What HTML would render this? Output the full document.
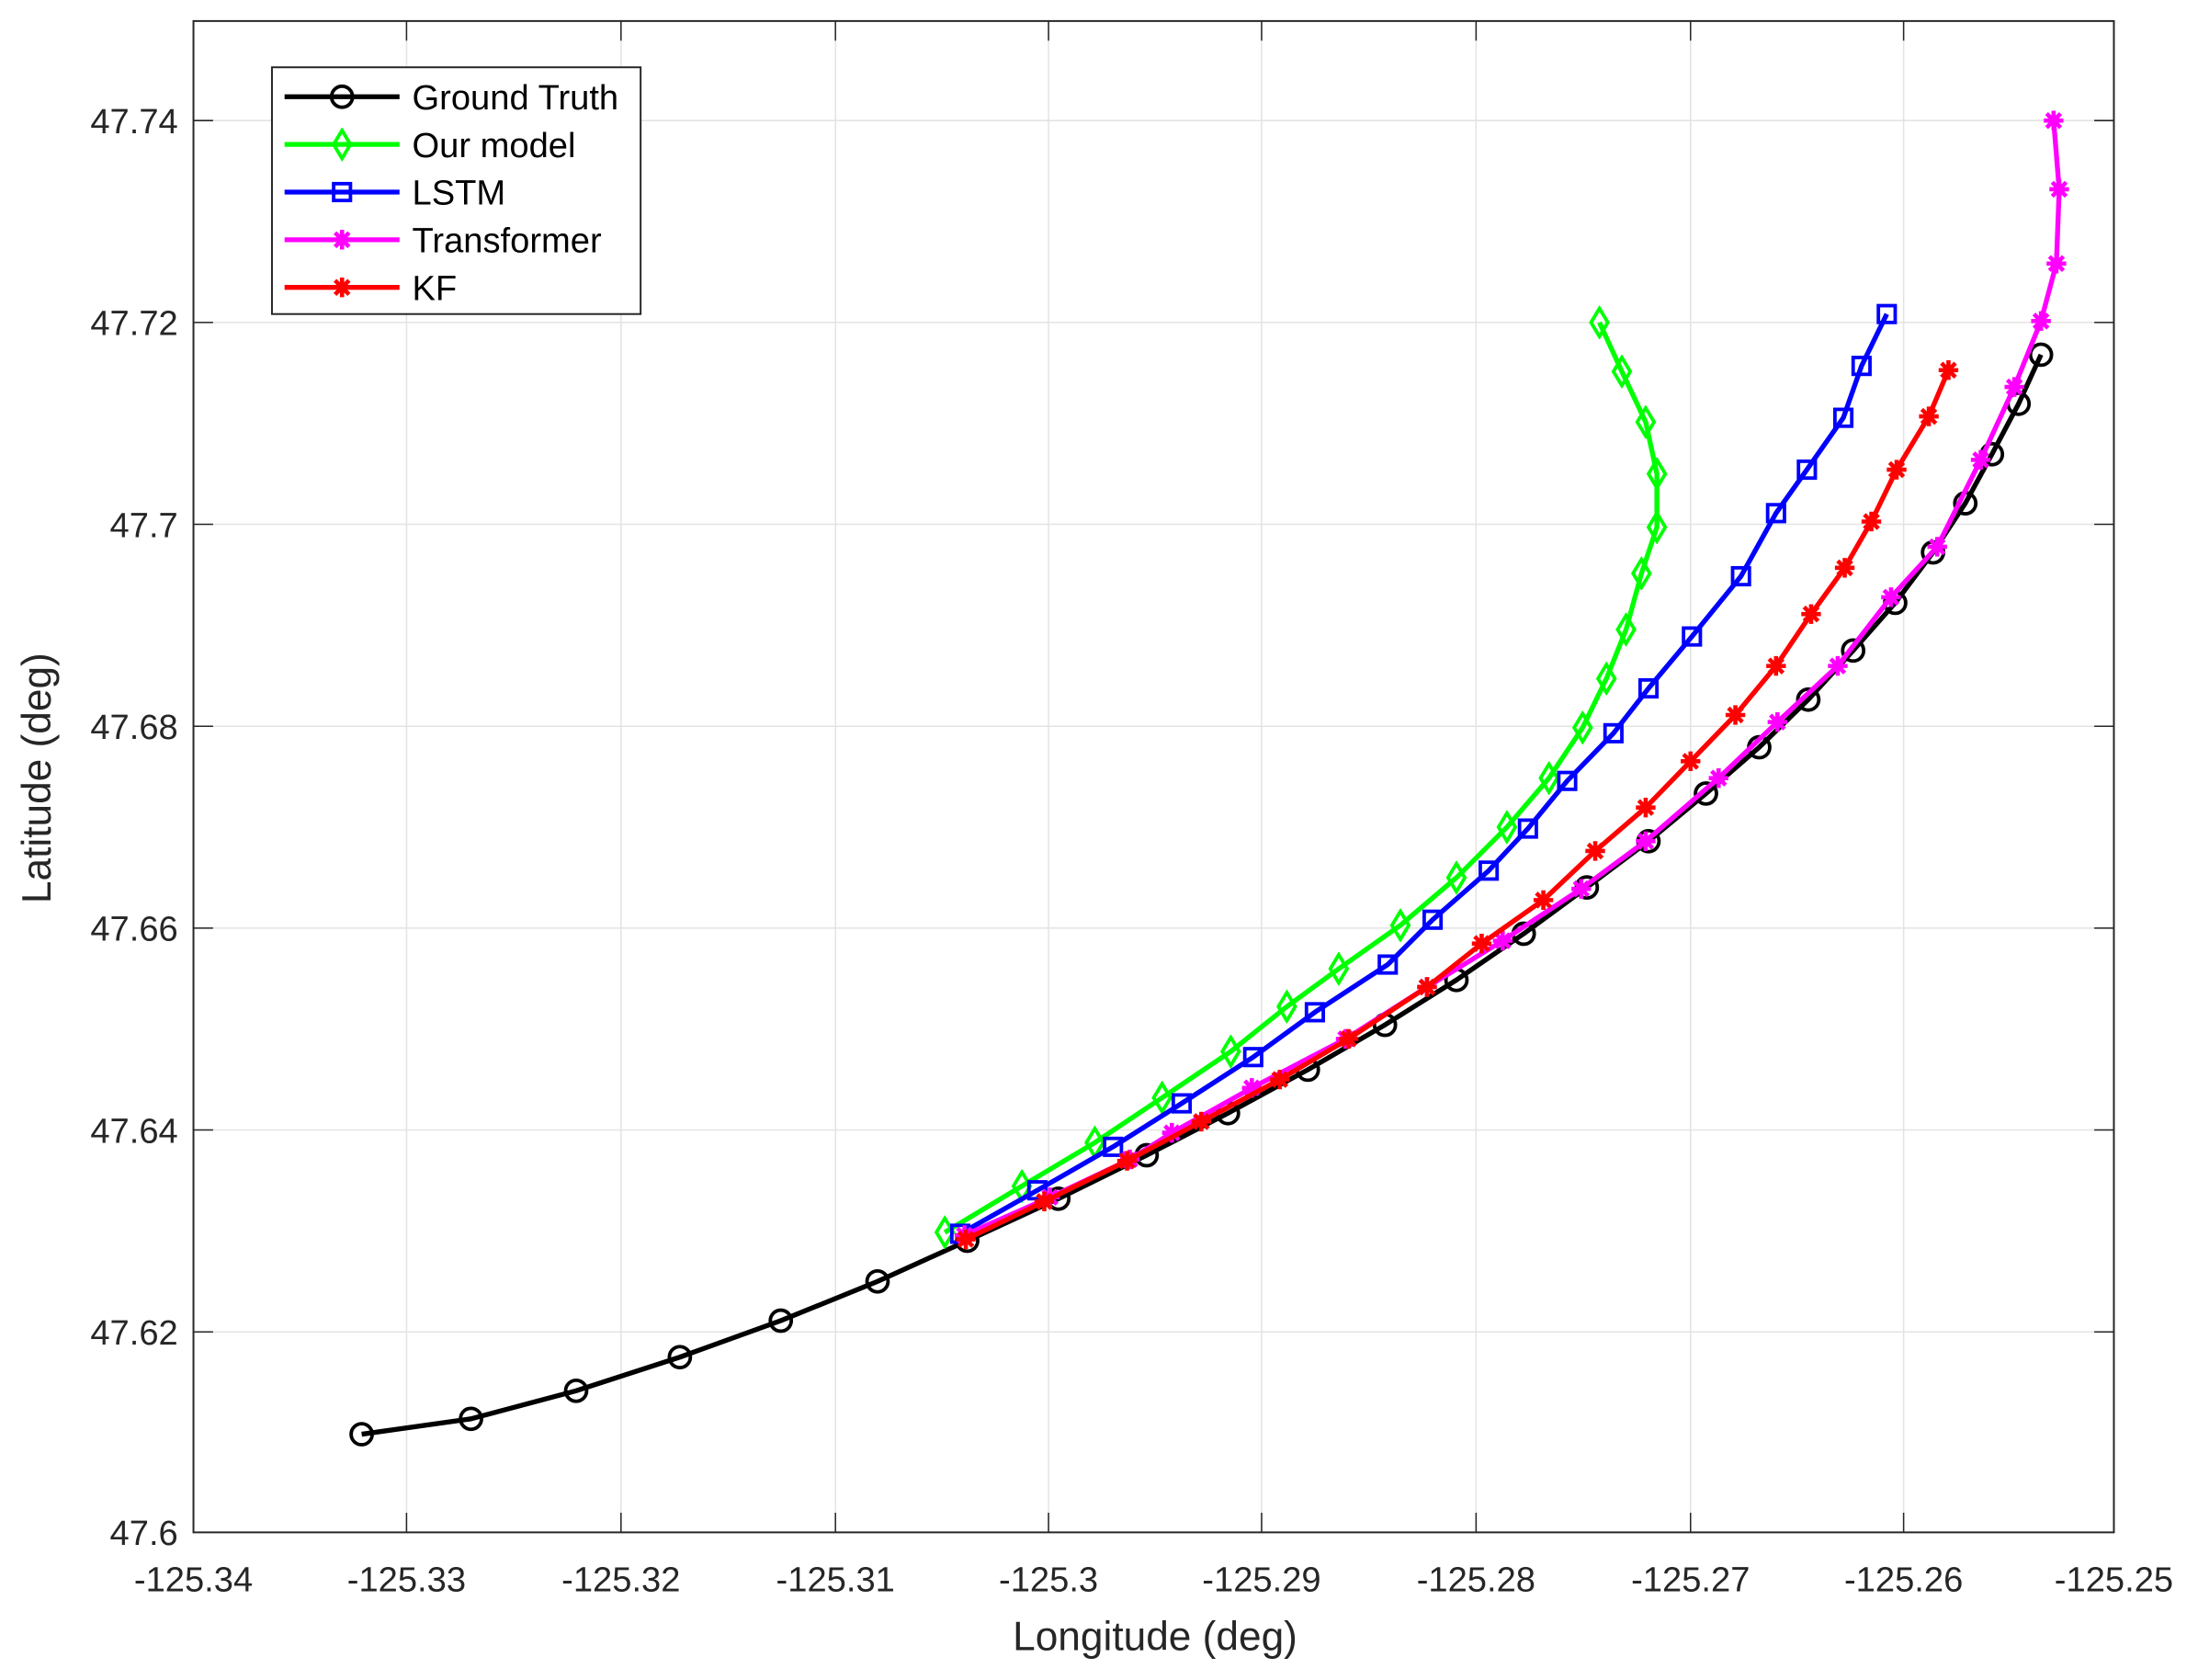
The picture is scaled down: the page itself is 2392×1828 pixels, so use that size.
<!DOCTYPE html>
<html><head><meta charset="utf-8"><style>html,body{margin:0;padding:0;background:#fff}svg{display:block}</style></head>
<body>
<svg width="2392" height="1828" viewBox="0 0 1568 1198.3" xmlns="http://www.w3.org/2000/svg" font-family="Liberation Sans, Arial, sans-serif">
<rect width="1568" height="1199" fill="#fff"/>
<g stroke="#e3e3e3" stroke-width="1">
<line x1="290" y1="15" x2="290" y2="1093"/><line x1="443" y1="15" x2="443" y2="1093"/><line x1="596" y1="15" x2="596" y2="1093"/><line x1="748" y1="15" x2="748" y2="1093"/><line x1="900" y1="15" x2="900" y2="1093"/><line x1="1053" y1="15" x2="1053" y2="1093"/><line x1="1206" y1="15" x2="1206" y2="1093"/><line x1="1358" y1="15" x2="1358" y2="1093"/>
<line x1="138" y1="950" x2="1508" y2="950"/><line x1="138" y1="806" x2="1508" y2="806"/><line x1="138" y1="662" x2="1508" y2="662"/><line x1="138" y1="518" x2="1508" y2="518"/><line x1="138" y1="374" x2="1508" y2="374"/><line x1="138" y1="230" x2="1508" y2="230"/><line x1="138" y1="86" x2="1508" y2="86"/>
</g>
<g stroke="#262626" stroke-width="1">
<path d="M290 1093v-14M443 1093v-14M596 1093v-14M748 1093v-14M900 1093v-14M1053 1093v-14M1206 1093v-14M1358 1093v-14M290 15v14M443 15v14M596 15v14M748 15v14M900 15v14M1053 15v14M1206 15v14M1358 15v14"/>
<path d="M138 950h14M138 806h14M138 662h14M138 518h14M138 374h14M138 230h14M138 86h14M1508 950h-14M1508 806h-14M1508 662h-14M1508 518h-14M1508 374h-14M1508 230h-14M1508 86h-14"/>
<rect x="138" y="15" width="1370" height="1078" fill="none" stroke-width="1.3"/>
</g>
<g font-size="25" fill="#262626" text-anchor="middle">
<text x="138" y="1135">-125.34</text><text x="290" y="1135">-125.33</text><text x="443" y="1135">-125.32</text><text x="596" y="1135">-125.31</text><text x="748" y="1135">-125.3</text><text x="900" y="1135">-125.29</text><text x="1053" y="1135">-125.28</text><text x="1206" y="1135">-125.27</text><text x="1358" y="1135">-125.26</text><text x="1508" y="1135">-125.25</text>
</g>
<g font-size="25" fill="#262626" text-anchor="end">
<text x="127" y="1102">47.6</text><text x="127" y="959">47.62</text><text x="127" y="815">47.64</text><text x="127" y="671">47.66</text><text x="127" y="527">47.68</text><text x="127" y="383">47.7</text><text x="127" y="239">47.72</text><text x="127" y="95">47.74</text>
</g>
<text x="824" y="1177" font-size="29" fill="#262626" text-anchor="middle">Longitude (deg)</text>
<text transform="translate(36,555) rotate(-90)" font-size="29" fill="#262626" text-anchor="middle">Latitude (deg)</text>

<defs>
<marker id="c" viewBox="-10 -10 20 20" markerWidth="20" markerHeight="20" markerUnits="userSpaceOnUse"><circle r="7.5" fill="none" stroke="#000" stroke-width="2.5"/></marker>
<marker id="d" viewBox="-12 -12 24 24" markerWidth="24" markerHeight="24" markerUnits="userSpaceOnUse"><path d="M0 -10L6 0L0 10L-6 0Z" fill="none" stroke="#00ff00" stroke-width="2.5"/></marker>
<marker id="s" viewBox="-10 -10 20 20" markerWidth="20" markerHeight="20" markerUnits="userSpaceOnUse"><rect x="-6" y="-6" width="12" height="12" fill="none" stroke="#0000ff" stroke-width="2.5"/></marker>
<marker id="m" viewBox="-10 -10 20 20" markerWidth="20" markerHeight="20" markerUnits="userSpaceOnUse"><path d="M0 -7V7M-7 0H7M-5 -5L5 5M-5 5L5 -5" stroke="#ff00ff" stroke-width="3"/></marker>
<marker id="r" viewBox="-10 -10 20 20" markerWidth="20" markerHeight="20" markerUnits="userSpaceOnUse"><path d="M0 -7V7M-7 0H7M-5 -5L5 5M-5 5L5 -5" stroke="#ff0000" stroke-width="3"/></marker>
</defs>
<g fill="none" stroke-width="3.5" stroke-linejoin="round">
<polyline stroke="#000" marker-start="url(#c)" marker-mid="url(#c)" marker-end="url(#c)" points="258,1023 336,1012 411,992 485,968 557,942 626,914 690,885 755,855 818,824 876,794 933,763 988,731 1039,699 1087,666 1132,633 1176,600 1217,566 1255,533 1290,499 1322,464 1352,430 1379,394 1402,359 1421,324 1440,288 1456,253"/>
<polyline stroke="#00ff00" marker-start="url(#d)" marker-mid="url(#d)" marker-end="url(#d)" points="674,879 729,846 781,815 829,783 878,750 918,718 955,691 999,660 1039,626 1075,590 1105,555 1129,519 1146,484 1160,449 1171,409 1182,376 1182,338 1174,301 1157,265 1141,230"/>
<polyline stroke="#0000ff" marker-start="url(#s)" marker-mid="url(#s)" marker-end="url(#s)" points="685,880 740,849 794,818 843,787 894,754 938,722 990,688 1022,656 1062,621 1090,591 1118,557 1151,523 1176,491 1207,454 1242,411 1267,366 1289,335 1315,298 1328,261 1346,224"/>
<polyline stroke="#ff00ff" marker-start="url(#m)" marker-mid="url(#m)" marker-end="url(#m)" points="688,881 749,854 806,827 836,808 893,776 960,741 1018,704 1072,671 1128,634 1174,600 1226,555 1268,515 1311,475 1349,426 1382,390 1413,328 1437,276 1456,229 1467,188 1469,135 1465,86"/>
<polyline stroke="#ff0000" marker-start="url(#r)" marker-mid="url(#r)" marker-end="url(#r)" points="689,884 745,857 804,828 857,800 913,770 962,741 1018,704 1057,673 1101,642 1138,607 1174,576 1206,543 1238,510 1267,475 1292,438 1316,405 1335,372 1353,335 1376,297 1390,264"/>
</g>

<rect x="194" y="48" width="263" height="176" fill="#fff" stroke="#262626" stroke-width="1.3"/>
<g stroke-width="3.5">
<polyline fill="none" points="203,69 244,69 285,69" stroke="#000" marker-mid="url(#c)"/>
<polyline fill="none" points="203,103 244,103 285,103" stroke="#00ff00" marker-mid="url(#d)"/>
<polyline fill="none" points="203,137 244,137 285,137" stroke="#0000ff" marker-mid="url(#s)"/>
<polyline fill="none" points="203,171 244,171 285,171" stroke="#ff00ff" marker-mid="url(#m)"/>
<polyline fill="none" points="203,205 244,205 285,205" stroke="#ff0000" marker-mid="url(#r)"/>
</g>
<g font-size="25" fill="#000">
<text x="294" y="78">Ground Truth</text><text x="294" y="112">Our model</text><text x="294" y="146">LSTM</text><text x="294" y="180">Transformer</text><text x="294" y="214">KF</text>
</g>
</svg>
</body></html>
